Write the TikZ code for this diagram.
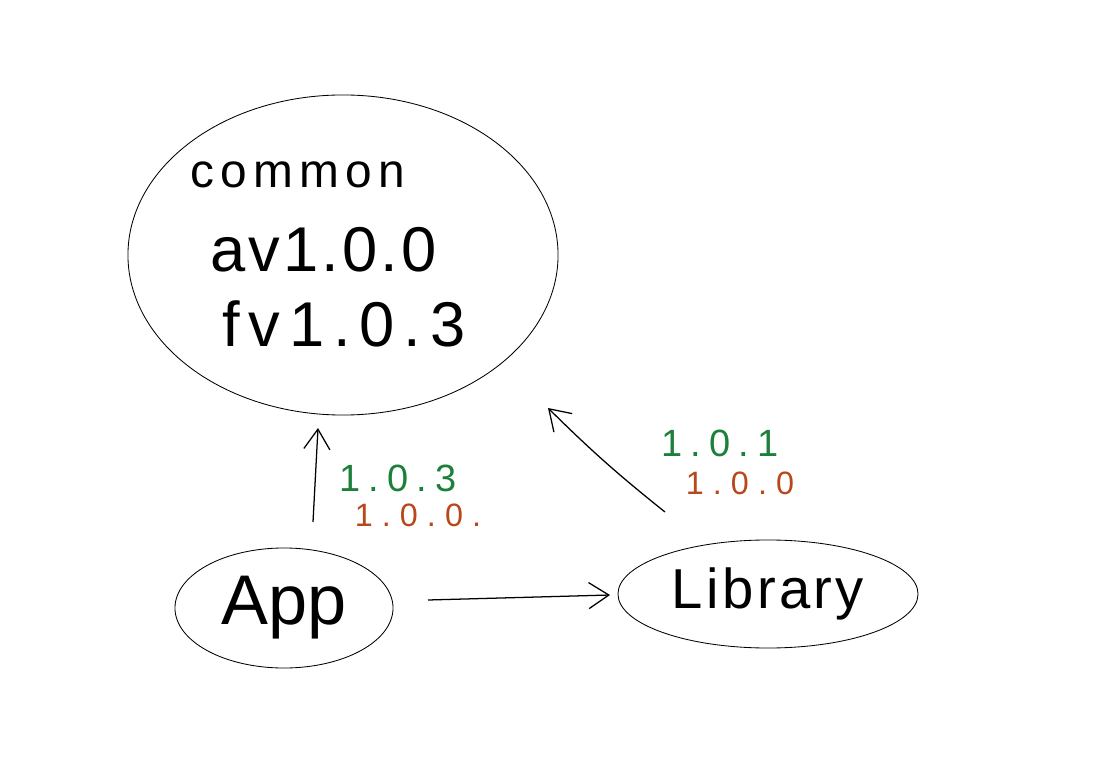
\documentclass[tikz,border=0pt]{standalone}
\usepackage{fontspec}
\setmainfont{Liberation Sans}
\usetikzlibrary{shapes.geometric, arrows.meta, positioning}
\definecolor{vgreen}{RGB}{28,128,58}
\definecolor{vorange}{RGB}{184,72,28}

\begin{document}
\begin{tikzpicture}[x=0.025cm, y=-0.025cm,
  blob/.style={ellipse, draw, line width=0.6pt, inner sep=0pt},
  inblob/.style={anchor=base west, inner sep=0pt},
  newver/.style={text=vgreen, font=\fontsize{27}{30}\selectfont\addfontfeature{LetterSpace=22}},
  oldver/.style={text=vorange, font=\fontsize{23}{26}\selectfont\addfontfeature{LetterSpace=28}},
  arr/.style={-{Straight Barb[length=5mm, width=6.5mm]}, line width=0.9pt}
]
\useasboundingbox (0,0) rectangle (1111,767);

\node[blob, minimum width=10.75cm, minimum height=8cm] (common) at (343,255) {};
\node[inblob, font=\fontsize{34}{40}\selectfont\addfontfeature{LetterSpace=13}] (commonname) at (190,188) {common};
\node[inblob, font=\fontsize{45}{50}\selectfont\addfontfeature{LetterSpace=5}] (avver) at (210,272) {av1.0.0};
\node[inblob, font=\fontsize{45}{50}\selectfont\addfontfeature{LetterSpace=14}] (fvver) at (222,347) {fv1.0.3};

\node[blob, minimum width=5.45cm, minimum height=3cm, font=\fontsize{50}{56}\selectfont] (app) at (284,608) {App};
\node[blob, minimum width=7.5cm, minimum height=2.7cm, font=\fontsize{40}{46}\selectfont\addfontfeature{LetterSpace=6}] (library) at (768,594) {Library};

% versions next to the arrows
\node[newver] (appnew) at (398,478) {1.0.3};
\node[oldver] (appold) at (418,515) {1.0.0.};
\node[newver] (libnew) at (720,443) {1.0.1};
\node[oldver] (libold) at (740,483) {1.0.0};

\draw[arr] ([shift={(144,-8)}]app.center) -- ([shift={(-158,1)}]library.center);
\draw[arr] ([shift={(29,-86)}]app.center) -- ([shift={(-25,173)}]common.center);
\draw[arr] ([shift={(-103,-82)}]library.center) to[bend left=3] ([shift={(205,153)}]common.center);
\end{tikzpicture}
\end{document}
